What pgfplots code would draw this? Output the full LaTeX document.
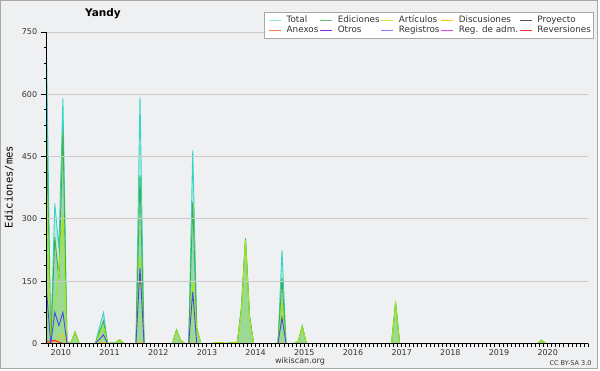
\documentclass[border=0pt]{standalone}
\usepackage{fontspec}
\setmainfont{DejaVu Sans}
\newfontfamily\monofont{DejaVu Sans Mono}
\usepackage{pgfplots}
\usepackage{pgfplotstable}
\pgfplotsset{compat=1.18}
\definecolor{bg}{HTML}{EFF0F1}
\definecolor{framec}{HTML}{A8A8A8}
\definecolor{gridc}{HTML}{CACACA}
\definecolor{txtc}{HTML}{333333}
\definecolor{totc}{HTML}{33D6C6}
\definecolor{edic}{HTML}{44B044}
\definecolor{artc}{HTML}{A8E610}
\definecolor{disc}{HTML}{F5C518}
\definecolor{proc}{HTML}{555555}
\definecolor{anec}{HTML}{FF8040}
\definecolor{otrc}{HTML}{8A2BE2}
\definecolor{regc}{HTML}{4848F0}
\definecolor{admc}{HTML}{E040F0}
\definecolor{revc}{HTML}{FF3030}

\pgfplotstableread{
u tot edic art disc anex reg rev
0 680 520 370 5 0 120 5
1 0 0 0 0 3 0 6
2 337 256 84 4 6 75 8
3 230 157 180 6 4 43 3
4 590 514 309 23 0 75 0
5 2 1 0 0 0 0 0
6 3 3 3 0 0 0 0
7 28 27 27 0 0 0 0
8 0 0 0 0 0 0 0
12 0 0 0 0 0 0 0
13 39 28 22 1 0 10 0
14 74 54 40 3 0 21 0
15 0 0 0 0 0 0 0
17 2 2 2 0 0 0 0
18 9 9 9 0 0 0 0
19 0 0 0 0 0 0 0
22 0 0 0 0 0 0 0
23 594 405 212 4 0 182 0
24 0 0 0 0 0 0 0
31 0 0 0 0 0 0 0
32 33 32 30 0 0 0 0
33 8 8 8 0 0 0 0
34 0 0 0 0 0 0 0
35 0 0 0 0 0 0 0
36 465 341 150 2 0 124 0
37 37 36 35 0 0 0 0
38 0 0 0 0 0 0 0
41 0 0 0 0 0 0 0
42 2 2 2 0 0 0 0
43 2 2 2 0 0 0 0
44 0 0 0 0 0 0 0
47 3 3 3 0 0 0 0
48 88 85 80 0 0 0 0
49 254 252 250 0 0 0 0
50 68 65 60 0 0 0 0
51 0 0 0 0 0 0 0
57 0 0 0 0 0 0 0
58 224 158 95 2 0 62 0
59 0 0 0 0 0 0 0
61 0 0 0 0 0 0 0
62 5 5 5 0 0 0 0
63 42 41 40 0 0 0 0
64 0 0 0 0 0 0 0
85 0 0 0 0 0 0 0
86 100 98 96 0 0 0 0
87 0 0 0 0 0 0 0
121 0 0 0 0 0 0 0
122 8 8 8 0 0 0 0
123 0 0 0 0 0 0 0
133.5 0 0 0 0 0 0 0
}\data

\begin{document}
\begin{tikzpicture}
\useasboundingbox (0pt,0pt) rectangle (600pt,370pt);
\fill[white] (0pt,0pt) rectangle (600pt,370pt);
\filldraw[fill=bg, draw=framec, line width=1pt] (0.5pt,1.5pt) rectangle (597.5pt,369.5pt);
\begin{axis}[
  at={(46.7pt,26.5pt)}, anchor=south west,
  scale only axis, width=541.6pt, height=311.5pt,
  xmin=0, xmax=133.5, ymin=0, ymax=750,
  axis lines*=left,
  axis on top,
  axis line style={black, line width=1.3pt},
  tick align=outside,
  major tick length=6pt, minor tick length=3pt,
  tick style={black, line width=1pt},
  xtick={3.5,15.5,...,123.5},
  xticklabels={2010,2011,2012,2013,2014,2015,2016,2017,2018,2019,2020},
  minor xtick={0.5,1.5,...,133.5},
  major x tick style={draw opacity=0},
  ytick={0,150,...,750},
  minor y tick num=3,
  ymajorgrids,
  grid style={gridc, line width=0.9pt},
  /pgf/number format/assume math mode=true,
  ticklabel style={font=\fontsize{8}{9}\selectfont, text=txtc},
  xticklabel style={yshift=3pt},
  legend columns=5,
  legend cell align=left,
  legend style={at={(axis description cs:0.4012,1.0652)}, anchor=north west,
    fill=white, draw=framec, line width=0.8pt, inner xsep=3pt, inner ysep=3.5pt,
    column sep=0pt, row sep=1pt,
    font=\fontsize{8.8}{9}\selectfont, text=txtc,
    nodes={inner sep=0pt, text height=6.8pt, text depth=2.2pt}},
  legend image code/.code={\draw[#1, line width=0.8pt] (0pt,0pt) -- (12pt,0pt); \path (-1.5pt,0pt) (17pt,0pt);},
]
\addplot[forget plot, draw=totc, line width=0.9pt, fill=totc, fill opacity=0.25] table[x=u,y=tot]{\data} \closedcycle;
\addplot[forget plot, draw=edic, line width=0.9pt, fill=edic, fill opacity=0.3] table[x=u,y=edic]{\data} \closedcycle;
\addplot[forget plot, draw=artc, line width=0.9pt, fill=artc, fill opacity=0.2] table[x=u,y=art]{\data} \closedcycle;
\addplot[forget plot, draw=disc, line width=0.9pt] table[x=u,y=disc]{\data};
\addplot[forget plot, draw=anec, line width=0.9pt] table[x=u,y=anex]{\data};
\addplot[forget plot, draw=revc, line width=0.9pt] table[x=u,y=rev]{\data};
\addplot[forget plot, draw=regc, line width=0.9pt] table[x=u,y=reg]{\data};
\addlegendimage{totc!60}\addlegendentry{Total}
\addlegendimage{edic!80}\addlegendentry{Ediciones}
\addlegendimage{artc!80}\addlegendentry{Artículos}
\addlegendimage{disc}\addlegendentry{Discusiones}
\addlegendimage{proc}\addlegendentry{Proyecto}
\addlegendimage{anec}\addlegendentry{Anexos}
\addlegendimage{otrc}\addlegendentry{Otros}
\addlegendimage{regc!70}\addlegendentry{Registros}
\addlegendimage{admc}\addlegendentry{Reg. de adm.}
\addlegendimage{revc}\addlegendentry{Reversiones}
\end{axis}
\node[font=\bfseries\fontsize{10.5}{12}\selectfont, text=black] at (103pt,356.5pt) {Yandy};
\node[font=\monofont\fontsize{10.5}{12}\selectfont, text=black, rotate=90] at (9pt,183pt) {Ediciones/mes};
\node[font=\fontsize{8}{9}\selectfont, text=txtc] at (300pt,8.5pt) {wikiscan.org};
\node[font=\fontsize{6.5}{8}\selectfont, text=txtc, anchor=east] at (595pt,7pt) {CC BY-SA 3.0};
\end{tikzpicture}
\end{document}
